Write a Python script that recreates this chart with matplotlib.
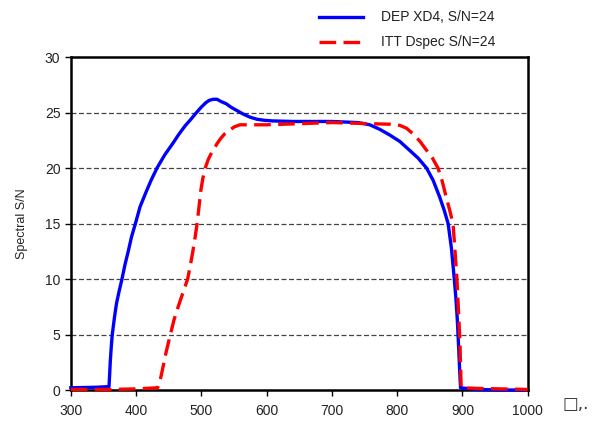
import numpy as np
import matplotlib.pyplot as plt

plt.rcParams['font.family'] = ['Liberation Sans', 'DejaVu Sans']

# DEP XD4 curve
dep_x = [300, 340, 356, 358.5, 359.5, 360.5, 362, 363.5, 367, 370, 374, 378, 383, 388, 393, 399, 406, 415, 423,
         432, 444, 456, 465, 475, 484, 491, 500, 507, 512, 518, 524, 530, 538, 545, 554, 563, 574, 585,
         597, 609, 640, 666, 700, 740, 758, 773, 788, 804, 819, 832, 845, 855, 865, 872, 878, 883,
         887, 890, 892, 894, 895.5, 897, 920, 960, 995]
dep_y = [0.2, 0.25, 0.3, 0.3, 1.4, 2.6, 3.9, 5.0, 6.6, 7.8, 8.9, 9.9, 11.3, 12.5, 13.8, 15.0, 16.5, 17.8, 18.9,
         20.0, 21.2, 22.2, 23.0, 23.8, 24.4, 24.9, 25.5, 25.9, 26.1, 26.2, 26.2, 26.0, 25.8, 25.5, 25.2, 24.9, 24.6, 24.4,
         24.3, 24.25, 24.2, 24.2, 24.2, 24.1, 23.9, 23.5, 23.0, 22.4, 21.6, 20.9, 20.0, 18.9, 17.4, 16.2, 15.0, 12.8,
         10.3, 8.2, 6.4, 4.0, 2.0, 0.2, 0.05, 0.0, 0.0]

# ITT Dspec curve
itt_x = [300, 360, 400, 433, 437, 441, 446, 452.5, 458, 465, 472, 479, 483, 487, 490, 493, 496, 499, 502,
         506, 510, 514, 518, 524, 530, 536, 543, 550, 559, 600, 650, 700, 758, 790, 804, 814, 824, 835,
         845, 854, 862.5, 869, 875, 880, 885.5, 888, 891.5, 894, 896, 897, 898, 920, 960, 1000]
itt_y = [0.05, 0.05, 0.1, 0.2, 0.9, 2.0, 3.4, 5.0, 6.3, 7.6, 8.8, 10.0, 11.2, 12.5, 13.6, 14.8, 16.3, 17.9, 19.0,
         20.0, 20.7, 21.2, 21.6, 22.2, 22.7, 23.1, 23.4, 23.7, 23.9, 23.9, 24.0, 24.1, 24.0, 23.95, 23.85, 23.6, 23.1, 22.4,
         21.6, 20.9, 20.0, 18.8, 17.4, 16.3, 15.0, 13.0, 10.0, 7.0, 4.5, 2.3, 0.2, 0.15, 0.1, 0.05]

x_ticks = [300, 400, 500, 600, 700, 800, 900, 1000]
y_ticks = [0, 5, 10, 15, 20, 25, 30]

fig = plt.figure(figsize=(5.95, 4.23), dpi=100)
ax = fig.add_axes([0.119, 0.078, 0.768, 0.787])

for yv in y_ticks[1:-1]:
    ax.axhline(yv, color='#444444', lw=0.9, ls=(0, (4, 2)), zorder=1)

ax.plot(dep_x, dep_y, color='#0000ff', lw=2.4, label='DEP XD4, S/N=24', zorder=3, clip_on=False)
ax.plot(itt_x, itt_y, color='#ff0000', lw=2.4, ls=(0, (5, 2.2)), label='ITT Dspec S/N=24', zorder=4,
        clip_on=False)

ax.set_xlim(300, 1000)
ax.set_ylim(0, 30)
ax.set_xticks(x_ticks)
ax.set_yticks(y_ticks)
ax.tick_params(axis='both', direction='out', length=4, width=1, labelsize=10,
               color='black', labelcolor='#222222')
ax.tick_params(axis='x', pad=6)
for s in ax.spines.values():
    s.set_linewidth(1.8)
ax.set_ylabel('Spectral S/N', fontsize=9, labelpad=12, color='#222222')

leg = fig.legend(loc='upper left', bbox_to_anchor=(0.515, 1.005), frameon=False, fontsize=10,
                 handlelength=3.2, handletextpad=1.3, labelspacing=0.8)
for t in leg.get_texts():
    t.set_color('#222222')

fig.text(0.945, 0.032, '□,.', fontsize=12, family='DejaVu Sans', color='#333333')

plt.savefig('out.png', dpi=100)
